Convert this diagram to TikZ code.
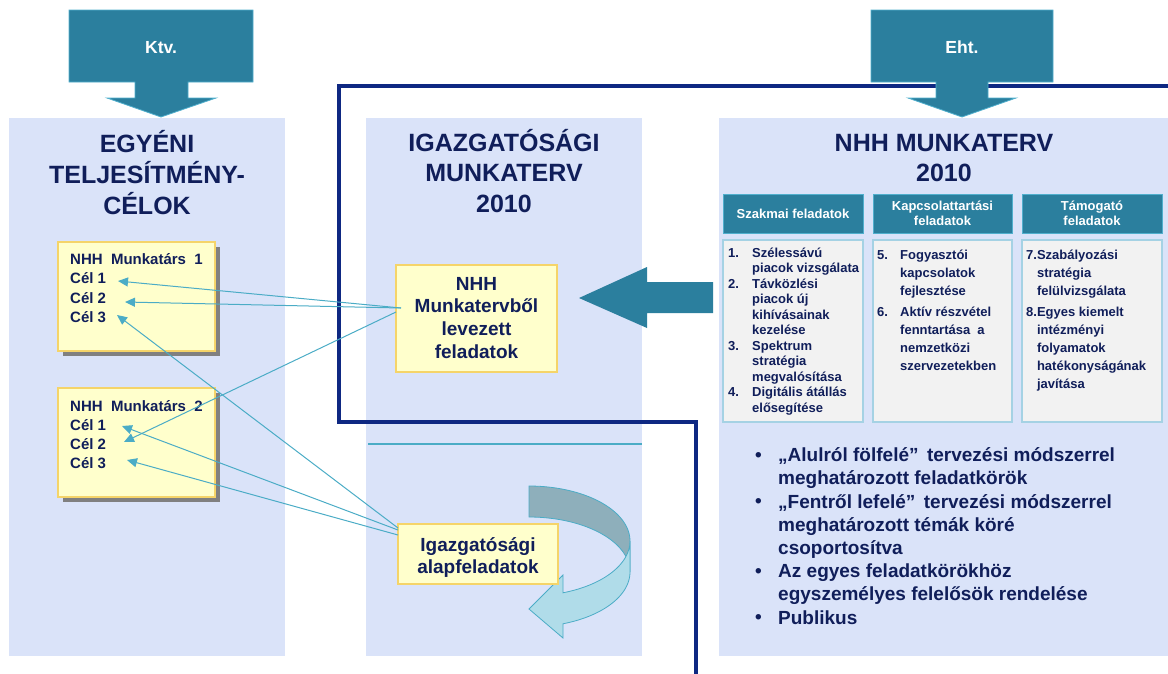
\documentclass[tikz,border=0pt]{standalone}
\usepackage{fontspec}
\setmainfont{Liberation Sans}
\usetikzlibrary{arrows.meta,shadows}
\definecolor{panel}{RGB}{218,227,249}
\definecolor{navy}{RGB}{14,40,130}
\definecolor{teal}{RGB}{43,127,158}
\definecolor{tealedge}{RGB}{80,175,205}
\definecolor{ink}{RGB}{16,30,90}
\definecolor{yfill}{RGB}{255,255,204}
\definecolor{yedge}{RGB}{245,212,105}
\definecolor{lblue}{RGB}{75,172,198}
\definecolor{gfill}{RGB}{242,242,242}
\definecolor{gedge}{RGB}{165,210,228}
\definecolor{banddark}{RGB}{142,175,187}
\definecolor{bandlight}{RGB}{176,220,233}
\newcommand\myfs[2]{\fontsize{#1}{#2}\selectfont\bfseries}
\newcommand\mybul{\makebox[23pt][l]{\raisebox{0.5pt}{\fontsize{19}{19}\selectfont •}}}
\begin{document}
\begin{tikzpicture}[x=1pt,y=-1pt,
  txt/.style={inner sep=0pt,text=ink},
  ybox/.style={draw=yedge,fill=yfill,line width=1.2pt,inner sep=0pt},
  yshadow/.style={drop shadow={shadow xshift=4.5pt,shadow yshift=-5pt,fill=black!50,opacity=1}},
  hdr/.style={draw=tealedge,fill=teal,line width=1pt,text=white,align=center,inner sep=0pt,
     minimum height=39pt,font=\myfs{13}{14.5}},
  cbox/.style={draw=gedge,fill=gfill,line width=1.2pt,inner sep=0pt,minimum height=182pt},
  link/.style={draw=lblue,line width=1pt,-{Triangle[length=10pt,width=9pt]}},
  lawarrow/.style={fill=teal,draw=tealedge,line width=0.8pt}
]
\useasboundingbox (0,0) rectangle (1168,673);

% panels
\fill[panel] (9,118) rectangle (285,656);
\fill[panel] (366,118) rectangle (642,656);
\fill[panel] (719,118) rectangle (1168,656);

% navy frame line
\draw[navy,line width=4.5pt,line join=miter] (1175,86) -- (339,86) -- (339,422) -- (696,422) -- (696,680);

% law arrows
\filldraw[lawarrow] (69,10) -- (253,10) -- (253,82) -- (188,82) -- (188,98) -- (216,98) -- (161,117)
  -- (107,98) -- (135,98) -- (135,82) -- (69,82) -- cycle;
\node[txt,text=white,font=\myfs{17.5}{20},anchor=base] (ktv) at (161,53) {Ktv.};
\filldraw[lawarrow] (871,10) -- (1053,10) -- (1053,82) -- (988,82) -- (988,98) -- (1016,98) -- (962,117)
  -- (908,98) -- (936,98) -- (936,82) -- (871,82) -- cycle;
\node[txt,text=white,font=\myfs{17.5}{20},anchor=base] (eht) at (962,53) {Eht.};

% separator in the middle panel
\draw[lblue,line width=1.5pt] (368,444) -- (642,444);

% big arrow pointing left
\fill[teal] (579,298) -- (647,267) -- (647,282) -- (713,282) -- (713,313) -- (647,313) -- (647,328) -- cycle;

% curved arrow
\filldraw[fill=banddark,draw=lblue,line width=0.8pt]
  plot[domain=90:0,samples=40] ({529+101*cos(\x)},{541-55*sin(\x)})
  -- plot[domain=0:90,samples=40] ({529+101*cos(\x)},{572-55*sin(\x)}) -- cycle;
\filldraw[fill=bandlight,draw=lblue,line width=0.8pt]
  plot[domain=0:-70.3,samples=30] ({529+101*cos(\x)},{541-55*sin(\x)})
  -- (563,575) -- (529,609) -- (563,638)
  -- plot[domain=-70.3:0,samples=30] ({529+101*cos(\x)},{572-55*sin(\x)}) -- cycle;

% titles
\node[txt,font=\myfs{25}{29.5},anchor=base] (t1) at (147,152)
  {\begin{tabular}[t]{@{}c@{}}EGYÉNI\\TELJESÍTMÉNY-\\CÉLOK\end{tabular}};
\node[txt,font=\myfs{25}{30.5},anchor=base] (t2) at (504,151)
  {\begin{tabular}[t]{@{}c@{}}IGAZGATÓSÁGI\\MUNKATERV\\2010\end{tabular}};
\node[txt,font=\myfs{25}{30.5},anchor=base] (t3) at (944,151)
  {\begin{tabular}[t]{@{}c@{}}NHH MUNKATERV\\2010\end{tabular}};

% employee boxes
\node[ybox,yshadow,minimum width=157pt,minimum height=109pt] (m1) at (136.5,296.5) {};
\node[txt,font=\myfs{15}{19.3},anchor=base west] (m1t) at (70,264.4)
  {\begin{tabular}[t]{@{}l@{}}NHH\ \ Munkatárs\ \ 1\\Cél 1\\Cél 2\\Cél 3\end{tabular}};
\node[ybox,yshadow,minimum width=157pt,minimum height=109pt] (m2) at (136.5,442.5) {};
\node[txt,font=\myfs{15}{19},anchor=base west] (m2t) at (70,411.4)
  {\begin{tabular}[t]{@{}l@{}}NHH\ \ Munkatárs\ \ 2\\Cél 1\\Cél 2\\Cél 3\end{tabular}};

% directorate boxes
\node[ybox,minimum width=161pt,minimum height=107pt] (nb) at (476.5,318.5) {};
\node[txt,font=\myfs{19}{22.8},anchor=base] (nbt) at (476.5,290)
  {\begin{tabular}[t]{@{}c@{}}NHH\\Munkatervből\\levezett\\feladatok\end{tabular}};
\node[ybox,minimum width=160pt,minimum height=60pt] (ab) at (478,554) {};
\node[txt,font=\myfs{19}{21.7},anchor=base] (abt) at (478,551.7)
  {\begin{tabular}[t]{@{}c@{}}Igazgatósági\\alapfeladatok\end{tabular}};

% NHH work plan columns
\node[hdr,minimum width=140pt] (h1) at (793,213.5) {Szakmai feladatok};
\node[hdr,minimum width=139pt] (h2) at (942.5,213.5) {Kapcsolattartási\\feladatok};
\node[hdr,minimum width=140pt] (h3) at (1092,213.5) {Támogató\\feladatok};
\node[cbox,minimum width=140pt] (c1) at (793,331) {};
\node[cbox,minimum width=139pt] (c2) at (942.5,331) {};
\node[cbox,minimum width=140pt] (c3) at (1092,331) {};

\node[txt,font=\myfs{13}{15.5},anchor=base west] (c1t) at (728,257.3)
  {\begin{tabular}[t]{@{}l@{}}
   \makebox[24pt][l]{1.}Szélessávú\\ \hspace{24pt}piacok vizsgálata\\
   \makebox[24pt][l]{2.}Távközlési\\ \hspace{24pt}piacok új\\ \hspace{24pt}kihívásainak\\ \hspace{24pt}kezelése\\
   \makebox[24pt][l]{3.}Spektrum\\ \hspace{24pt}stratégia\\ \hspace{24pt}megvalósítása\\
   \makebox[24pt][l]{4.}Digitális átállás\\ \hspace{24pt}elősegítése
  \end{tabular}};
\node[txt,font=\myfs{13}{18},anchor=base west] (c2t) at (877,259)
  {\begin{tabular}[t]{@{}l@{}}
   \makebox[23pt][l]{5.}Fogyasztói\\ \hspace{23pt}kapcsolatok\\ \hspace{23pt}fejlesztése\\[3pt]
   \makebox[23pt][l]{6.}Aktív részvétel\\ \hspace{23pt}fenntartása\ \ a\\ \hspace{23pt}nemzetközi\\ \hspace{23pt}szervezetekben
  \end{tabular}};
\node[txt,font=\myfs{13}{18},anchor=base west] (c3t) at (1026,259)
  {\begin{tabular}[t]{@{}l@{}}
   7.Szabályozási\\ \phantom{7.}stratégia\\ \phantom{7.}felülvizsgálata\\[3pt]
   8.Egyes kiemelt\\ \phantom{8.}intézményi\\ \phantom{8.}folyamatok\\ \phantom{8.}hatékonyságának\\ \phantom{8.}javítása
  \end{tabular}};

% bullet list
\node[txt,font=\myfs{19}{23.2},anchor=base west] (bl) at (755,461.7)
  {\begin{tabular}[t]{@{}l@{}l@{}}
   \mybul & „Alulról fölfelé”\,\ tervezési módszerrel\\
   & meghatározott feladatkörök\\
   \mybul & „Fentről lefelé”\,\ tervezési módszerrel\\
   & meghatározott témák köré\\
   & csoportosítva\\
   \mybul & Az egyes feladatkörökhöz\\
   & egyszemélyes felelősök rendelése\\
   \mybul & Publikus
  \end{tabular}};

% connector end points
\coordinate (nA) at (401,308);
\coordinate (nB) at (396,312);
\coordinate (aA) at (398,528);
\coordinate (aB) at (398,530);
\coordinate (aC) at (398,535);
\coordinate (g11) at (118,281);
\coordinate (g12) at (125,302);
\coordinate (g13) at (117,315);
\coordinate (g21) at (122,426);
\coordinate (g22) at (124,442);
\coordinate (g23) at (127,460);

\draw[link] (nA) -- (g11);
\draw[link] (nA) -- (g12);
\draw[link] (nB) -- (g22);
\draw[link] (aA) -- (g13);
\draw[link] (aB) -- (g21);
\draw[link] (aC) -- (g23);
\end{tikzpicture}
\end{document}
